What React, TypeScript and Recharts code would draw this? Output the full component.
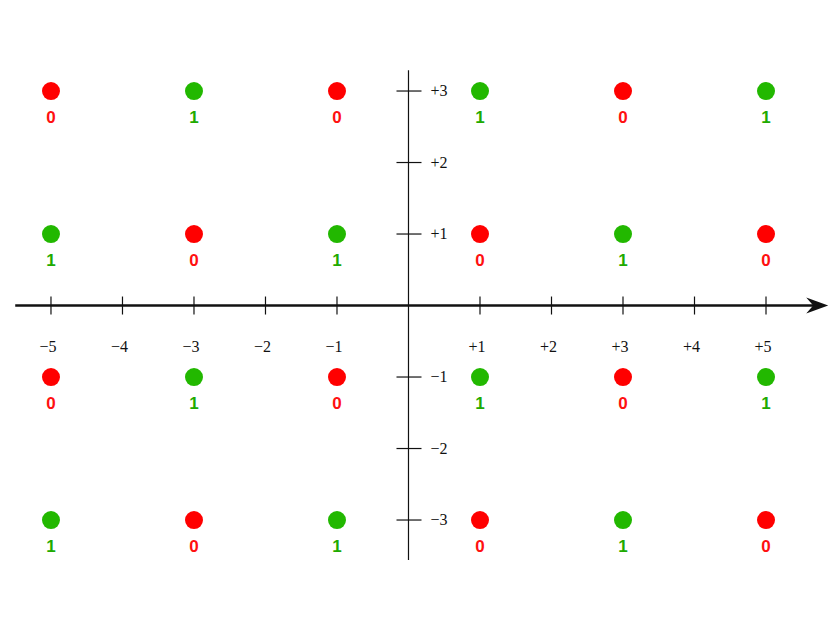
import React from 'react'
import { ScatterChart, Scatter, XAxis, YAxis, ReferenceLine } from 'recharts'

const W = 830
const H = 642
const RED = '#ff0000'
const GREEN = '#22b800'
const INK = '#111111'

// grid of sample points, value 0 = red, 1 = green
const xs = [-5, -3, -1, 1, 3, 5]
const rowY = [3, 1, -1, -3]
const rowValues = [
  [0, 1, 0, 1, 0, 1],
  [1, 0, 1, 0, 1, 0],
  [0, 1, 0, 1, 0, 1],
  [1, 0, 1, 0, 1, 0],
]

const xTicks = [-5, -4, -3, -2, -1, 1, 2, 3, 4, 5]
const yTicks = [3, 2, 1, -1, -2, -3]

const fmt = (v: number) => (v > 0 ? `+${v}` : `\u2212${Math.abs(v)}`)

const points = rowY.flatMap((y, r) => xs.map((x, c) => ({ x, y, v: rowValues[r][c] })))
const zeros = points.filter((p) => p.v === 0)
const ones = points.filter((p) => p.v === 1)
const xTickData = xTicks.map((x) => ({ x, y: 0 }))
const yTickData = yTicks.map((y) => ({ x: 0, y }))

const Dot = (color: string, labelColor: string) => (props: any) => {
  const { cx, cy, payload } = props
  return (
    <g>
      <circle cx={cx} cy={cy} r={9} fill={color} />
      <text
        x={cx}
        y={cy + 32}
        textAnchor="middle"
        fontFamily="'Liberation Sans', Arial, sans-serif"
        fontWeight="bold"
        fontSize={17}
        fill={labelColor}
      >
        {payload.v}
      </text>
    </g>
  )
}

const XTick = (props: any) => {
  const { cx, cy, payload } = props
  return (
    <g>
      <line x1={cx} x2={cx} y1={cy - 9} y2={cy + 9} stroke={INK} strokeWidth={1.2} />
      <text x={cx - 3} y={cy + 46} textAnchor="middle" fontFamily="'Liberation Serif', serif" fontSize={16} fill={INK}>
        {fmt(payload.x)}
      </text>
    </g>
  )
}

const YTick = (props: any) => {
  const { cx, cy, payload } = props
  return (
    <g>
      <line x1={cx - 12} x2={cx + 13} y1={cy} y2={cy} stroke={INK} strokeWidth={1.2} />
      <text x={cx + 22} y={cy + 5} textAnchor="start" fontFamily="'Liberation Serif', serif" fontSize={16} fill={INK}>
        {fmt(payload.y)}
      </text>
    </g>
  )
}

const ArrowAxis = (props: any) => {
  const { x1, y1, x2, y2 } = props
  return (
    <g>
      <line x1={x1} y1={y1} x2={x2 - 8} y2={y2} stroke={INK} strokeWidth={2.5} />
      <path
        d={`M ${x2} ${y2} L ${x2 - 22} ${y2 - 8} L ${x2 - 15} ${y2} L ${x2 - 22} ${y2 + 8} Z`}
        fill={INK}
      />
    </g>
  )
}

export default function App() {
  return (
    <div style={{ position: 'absolute', left: 0, top: 0, background: '#fff' }}>
      <ScatterChart width={W} height={H} margin={{ top: 0, right: 0, bottom: 0, left: 0 }}>
        <XAxis type="number" dataKey="x" domain={[-5.713, 5.895]} hide allowDataOverflow />
        <YAxis type="number" dataKey="y" domain={[-4.706, 4.273]} hide allowDataOverflow />
        <ReferenceLine
          segment={[{ x: 0, y: -3.56 }, { x: 0, y: 3.29 }]}
          stroke={INK}
          strokeWidth={1.2}
        />
        <ReferenceLine
          segment={[{ x: -5.5, y: 0 }, { x: 5.87, y: 0 }]}
          shape={ArrowAxis}
        />
        <Scatter data={xTickData} shape={XTick} isAnimationActive={false} />
        <Scatter data={yTickData} shape={YTick} isAnimationActive={false} />
        <Scatter data={zeros} shape={Dot(RED, '#ff1010')} isAnimationActive={false} />
        <Scatter data={ones} shape={Dot(GREEN, '#20aa00')} isAnimationActive={false} />
      </ScatterChart>
    </div>
  )
}
